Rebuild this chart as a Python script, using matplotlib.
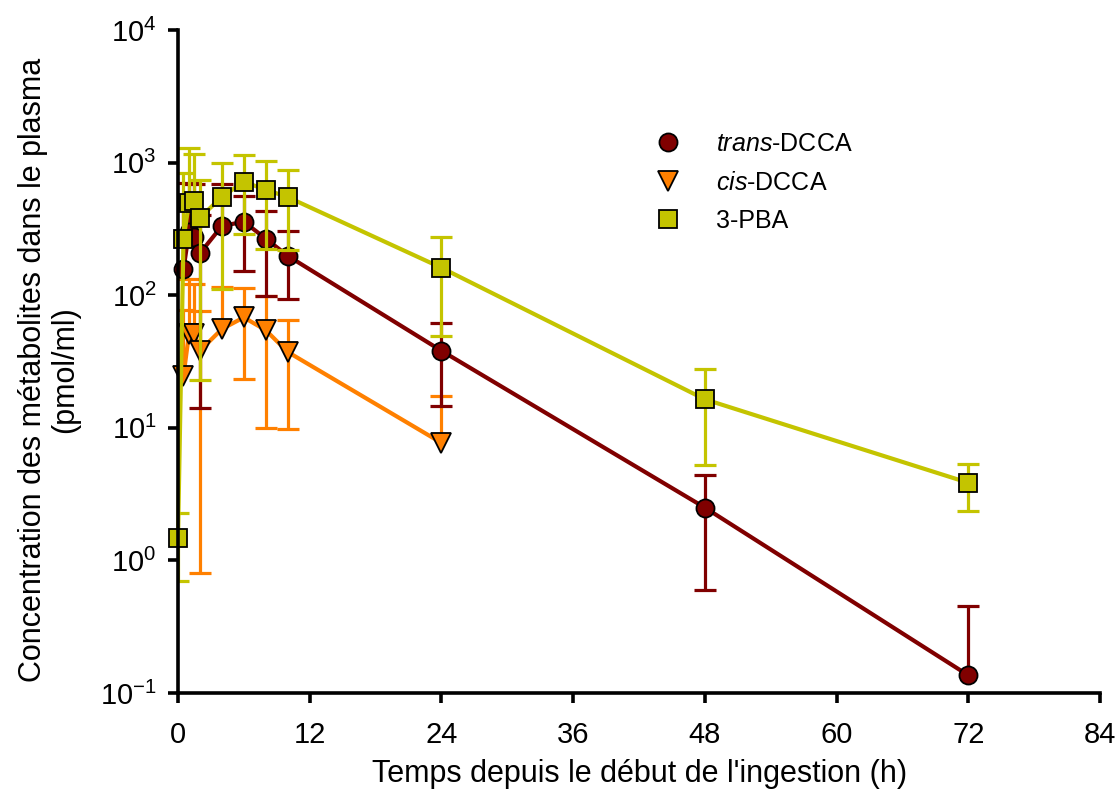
import numpy as np
import matplotlib.pyplot as plt

plt.rcParams['font.family'] = ['Liberation Sans', 'DejaVu Sans']
plt.rcParams['mathtext.fontset'] = 'custom'
plt.rcParams['mathtext.rm'] = 'Liberation Sans'
plt.rcParams['mathtext.it'] = 'Liberation Sans:italic'

# temps (h), moyenne et écart-type (pmol/ml)
t_pba = [0, 0.5, 1, 1.5, 2, 4, 6, 8, 10, 24, 48, 72]
pba_mean = [1.48, 264, 499, 513, 384, 553, 715, 625, 549, 161, 16.4, 3.85]
pba_sd = [0.78, 566, 783, 648, 361, 441, 424, 402, 330, 112, 11.2, 1.5]

t_trans = [0.5, 1, 1.5, 2, 4, 6, 8, 10, 24, 48, 72]
trans_mean = [157, 300, 275, 207, 333, 358, 267, 198, 38.1, 2.5, 0.136]
trans_sd = [300, 400, 410, 193, 351, 205, 168, 105, 23.5, 1.9, 0.317]

t_cis = [0.5, 1, 1.5, 2, 4, 6, 8, 10, 24]
cis_mean = [24.7, 51.0, 51.0, 38.1, 55.6, 68.0, 54.4, 37.3, 7.7]
cis_sd = [52.6, 81, 70, 37.3, 59, 44.6, 44.5, 27.5, 9.7]


def draw_series(ax, t, mean, sd, color, marker, ms, label):
    t = np.array(t, dtype=float)
    mean = np.array(mean)
    sd = np.array(sd)
    hi = mean + sd
    lo = mean - sd
    lo_ok = np.where(lo > 0, lo, np.nan)
    # barres d'erreur : la partie basse n'est tracée que si elle reste > 0
    ax.vlines(t, np.where(lo > 0, lo, mean), hi, color=color, lw=2.3)
    ax.plot(t, hi, ls='none', marker='_', ms=16, mew=2.3, color=color)
    ax.plot(t, lo_ok, ls='none', marker='_', ms=16, mew=2.3, color=color)
    ax.plot(t, mean, color=color, lw=3.0, marker=marker, ms=ms,
            mfc=color, mec='black', mew=1.3, label=label, clip_on=False)


fig = plt.figure(figsize=(11.19, 8.10), dpi=100)
ax = fig.add_axes([178 / 1119, 1 - 693 / 810, 922 / 1119, 663 / 810])

draw_series(ax, t_cis, cis_mean, cis_sd, '#FF8000', 'v', 15, r'$\it{cis}$-DCCA')
draw_series(ax, t_trans, trans_mean, trans_sd, '#800000', 'o', 13, r'$\it{trans}$-DCCA')
draw_series(ax, t_pba, pba_mean, pba_sd, '#C4C400', 's', 12.5, '3-PBA')

ax.set_yscale('log')
ax.set_ylim(0.1, 10000)
ax.set_xlim(0, 84)
ax.set_xticks(np.arange(0, 85, 12))
ax.yaxis.set_minor_locator(plt.NullLocator())
ax.set_yticks([0.1, 1, 10, 100, 1000, 10000])
ax.set_yticklabels([r'$10^{-1}$', r'$10^{0}$', r'$10^{1}$', r'$10^{2}$', r'$10^{3}$', r'$10^{4}$'])

for s in ['top', 'right']:
    ax.spines[s].set_visible(False)
for s in ['left', 'bottom']:
    ax.spines[s].set_linewidth(2.6)
ax.tick_params(direction='out', length=7.5, width=2.6, labelsize=21)
ax.tick_params(axis='x', pad=13)
ax.tick_params(axis='y', pad=8)

h, l = ax.get_legend_handles_labels()
order = [1, 0, 2]
ax.legend([h[i] for i in order], [l[i] for i in order], loc='upper left',
          bbox_to_anchor=(0.48, 0.88), frameon=False, fontsize=18,
          handlelength=2.0, labelspacing=0.58, handletextpad=0.9)
for lh in ax.get_legend().get_lines():
    lh.set_linestyle('none')

fig.text(640 / 1119, 1 - 774 / 810, "Temps depuis le début de l'ingestion (h)",
         ha='center', va='center', fontsize=22)
fig.text(49 / 1119, 1 - 370 / 810,
         "Concentration des métabolites dans le plasma\n(pmol/ml)",
         ha='center', va='center', rotation=90, fontsize=22,
         multialignment='center', linespacing=1.1)

fig.savefig('out.png', dpi=100)
